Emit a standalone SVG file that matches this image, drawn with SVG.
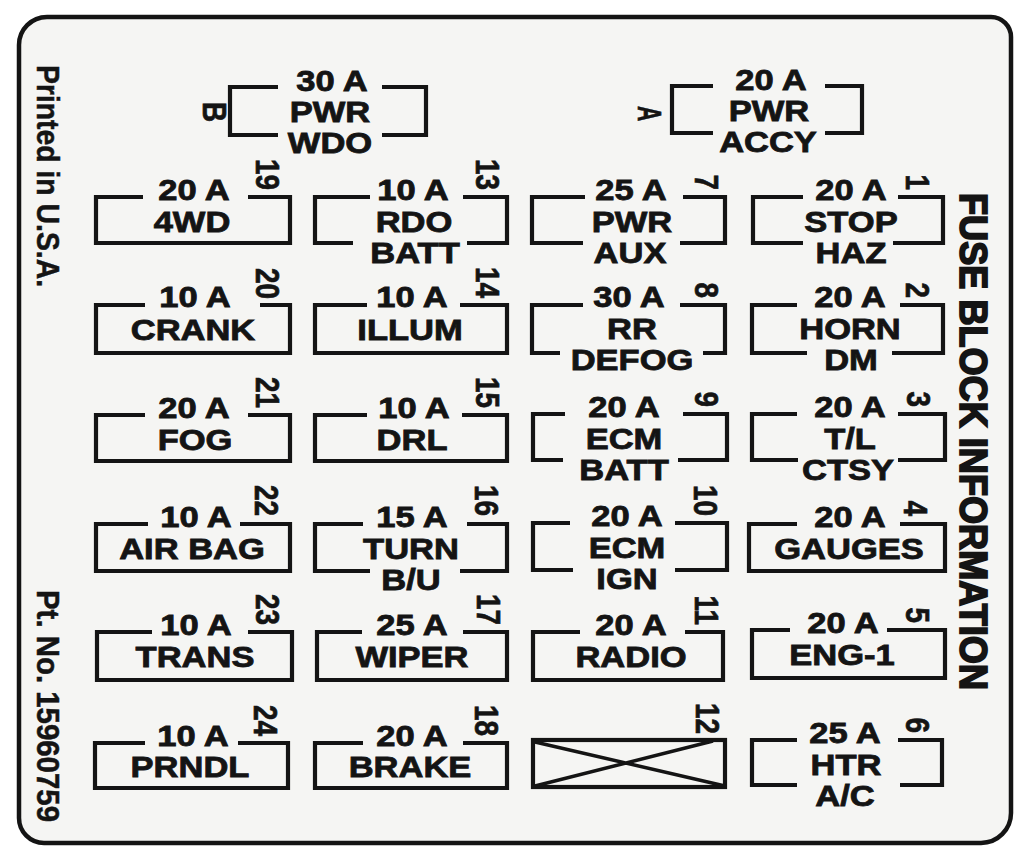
<svg xmlns="http://www.w3.org/2000/svg" width="1018" height="846" viewBox="0 0 1018 846">
<style>
.box{fill:none;stroke:#141414;stroke-width:4.2;stroke-linejoin:miter;stroke-linecap:butt}
.t{font-family:"Liberation Sans",Arial,Helvetica,sans-serif;font-weight:700;font-size:29px;fill:#141414;stroke:#141414;stroke-width:0.8;text-anchor:middle}
.n{font-family:"Liberation Sans",Arial,Helvetica,sans-serif;font-weight:700;font-size:34px;fill:#141414;stroke:#141414;stroke-width:0.7;text-anchor:end}
.s{font-family:"Liberation Sans",Arial,Helvetica,sans-serif;font-weight:700;font-size:32px;fill:#141414;stroke:#141414;stroke-width:0.5;text-anchor:start}
.big{font-family:"Liberation Sans",Arial,Helvetica,sans-serif;font-weight:700;font-size:38px;fill:#141414;stroke:#141414;stroke-width:1.8;text-anchor:start}
</style>
<rect width="1018" height="846" fill="#ffffff"/>
<g id="border">
<path d="M19 45 A28 28 0 0 1 47 17 H991 A20 20 0 0 1 1011 37 V813 A30 30 0 0 1 981 843 H44 A25 25 0 0 1 19 818 Z" fill="#f5f5f3" stroke="#141414" stroke-width="4.5"/>
</g>
<g id="side-labels">
<text class="s" transform="translate(37 65) rotate(90)" textLength="222" lengthAdjust="spacingAndGlyphs">Printed in U.S.A.</text>
<text class="s" transform="translate(37 590) rotate(90)" textLength="232" lengthAdjust="spacingAndGlyphs">Pt. No. 15960759</text>
<text class="big" transform="translate(960 193) rotate(90)" textLength="497" lengthAdjust="spacingAndGlyphs">FUSE BLOCK INFORMATION</text>
</g>
<g id="connectors"/>
<g id="breaker-B">
<path class="box" d="M278 87H230V135H278M382 87H426V135H382"/>
<text class="t" transform="translate(332 91) scale(1.19 1)">30 A</text>
<text class="t" transform="translate(330 122) scale(1.19 1)">PWR</text>
<text class="t" transform="translate(330 153) scale(1.19 1)">WDO</text>
<text class="n" transform="translate(203 102) rotate(90) scale(0.82 1)" style="text-anchor:start">B</text>
</g>
<g id="breaker-A">
<path class="box" d="M713 86H672V133H713M825 86H862V133H825"/>
<text class="t" transform="translate(771 90) scale(1.19 1)">20 A</text>
<text class="t" transform="translate(769 121) scale(1.19 1)">PWR</text>
<text class="t" transform="translate(768 152) scale(1.19 1)">ACCY</text>
<text class="n" transform="translate(638 106) rotate(90) scale(0.62 1)" style="text-anchor:start">A</text>
</g>
<g id="fuse-19">
<path class="box" d="M143 197H96V243H290V197H248"/>
<text class="t" transform="translate(194 200) scale(1.19 1)">20 A</text>
<text class="t" transform="translate(192 232) scale(1.19 1)">4WD</text>
<text class="n" transform="translate(256 190) rotate(90) scale(0.82 1)">19</text>
</g>
<g id="fuse-13">
<path class="box" d="M370 197H315V243H353M463 197H507V243H467"/>
<text class="t" transform="translate(413 200) scale(1.19 1)">10 A</text>
<text class="t" transform="translate(414 232) scale(1.19 1)">RDO</text>
<text class="t" transform="translate(415 263) scale(1.19 1)">BATT</text>
<text class="n" transform="translate(476 190) rotate(90) scale(0.82 1)">13</text>
</g>
<g id="fuse-7">
<path class="box" d="M585 197H532V243H583M683 197H725V243H680"/>
<text class="t" transform="translate(631 200) scale(1.19 1)">25 A</text>
<text class="t" transform="translate(632 232) scale(1.19 1)">PWR</text>
<text class="t" transform="translate(630 263) scale(1.19 1)">AUX</text>
<text class="n" transform="translate(695 190) rotate(90) scale(0.82 1)">7</text>
</g>
<g id="fuse-1">
<path class="box" d="M803 197H753V243H803M898 197H943V243H893"/>
<text class="t" transform="translate(851 200) scale(1.19 1)">20 A</text>
<text class="t" transform="translate(851 232) scale(1.19 1)">STOP</text>
<text class="t" transform="translate(851 263) scale(1.19 1)">HAZ</text>
<text class="n" transform="translate(906 190) rotate(90) scale(0.82 1)">1</text>
</g>
<g id="fuse-20">
<path class="box" d="M145 305H96V353H290V305H260"/>
<text class="t" transform="translate(195 307) scale(1.19 1)">10 A</text>
<text class="t" transform="translate(193 340) scale(1.19 1)">CRANK</text>
<text class="n" transform="translate(256 299) rotate(90) scale(0.82 1)">20</text>
</g>
<g id="fuse-14">
<path class="box" d="M367 305H315V353H507V305H460"/>
<text class="t" transform="translate(412 307) scale(1.19 1)">10 A</text>
<text class="t" transform="translate(410 340) scale(1.19 1)">ILLUM</text>
<text class="n" transform="translate(476 298) rotate(90) scale(0.82 1)">14</text>
</g>
<g id="fuse-8">
<path class="box" d="M583 305H532V353H560M680 305H725V353H703"/>
<text class="t" transform="translate(629 307) scale(1.19 1)">30 A</text>
<text class="t" transform="translate(632 339) scale(1.19 1)">RR</text>
<text class="t" transform="translate(632 370) scale(1.19 1)">DEFOG</text>
<text class="n" transform="translate(695 298) rotate(90) scale(0.82 1)">8</text>
</g>
<g id="fuse-2">
<path class="box" d="M797 305H752V353H807M900 305H943V353H892"/>
<text class="t" transform="translate(850 307) scale(1.19 1)">20 A</text>
<text class="t" transform="translate(850 339) scale(1.19 1)">HORN</text>
<text class="t" transform="translate(851 370) scale(1.19 1)">DM</text>
<text class="n" transform="translate(906 298) rotate(90) scale(0.82 1)">2</text>
</g>
<g id="fuse-21">
<path class="box" d="M145 415H96V461H290V415H248"/>
<text class="t" transform="translate(194 418) scale(1.19 1)">20 A</text>
<text class="t" transform="translate(195 450) scale(1.19 1)">FOG</text>
<text class="n" transform="translate(256 408) rotate(90) scale(0.82 1)">21</text>
</g>
<g id="fuse-15">
<path class="box" d="M367 415H315V461H507V415H462"/>
<text class="t" transform="translate(414 418) scale(1.19 1)">10 A</text>
<text class="t" transform="translate(412 450) scale(1.19 1)">DRL</text>
<text class="n" transform="translate(476 408) rotate(90) scale(0.82 1)">15</text>
</g>
<g id="fuse-9">
<path class="box" d="M565 414H533V460H563M683 414H727V460H678"/>
<text class="t" transform="translate(624 417) scale(1.19 1)">20 A</text>
<text class="t" transform="translate(624 449) scale(1.19 1)">ECM</text>
<text class="t" transform="translate(624 480) scale(1.19 1)">BATT</text>
<text class="n" transform="translate(695 407) rotate(90) scale(0.82 1)">9</text>
</g>
<g id="fuse-3">
<path class="box" d="M797 414H752V460H798M898 414H945V460H898"/>
<text class="t" transform="translate(850 417) scale(1.19 1)">20 A</text>
<text class="t" transform="translate(850 449) scale(1.19 1)">T/L</text>
<text class="t" transform="translate(848 480) scale(1.19 1)">CTSY</text>
<text class="n" transform="translate(907 407) rotate(90) scale(0.82 1)">3</text>
</g>
<g id="fuse-22">
<path class="box" d="M148 524H96V571H290V524H240"/>
<text class="t" transform="translate(196 527) scale(1.19 1)">10 A</text>
<text class="t" transform="translate(192 559) scale(1.19 1)">AIR BAG</text>
<text class="n" transform="translate(255 516) rotate(90) scale(0.82 1)">22</text>
</g>
<g id="fuse-16">
<path class="box" d="M363 524H315V571H370M467 524H507V571H460"/>
<text class="t" transform="translate(412 527) scale(1.19 1)">15 A</text>
<text class="t" transform="translate(411 559) scale(1.19 1)">TURN</text>
<text class="t" transform="translate(411 590) scale(1.19 1)">B/U</text>
<text class="n" transform="translate(475 516) rotate(90) scale(0.82 1)">16</text>
</g>
<g id="fuse-10">
<path class="box" d="M570 523H533V570H573M675 523H727V570H675"/>
<text class="t" transform="translate(627 526) scale(1.19 1)">20 A</text>
<text class="t" transform="translate(627 558) scale(1.19 1)">ECM</text>
<text class="t" transform="translate(627 589) scale(1.19 1)">IGN</text>
<text class="n" transform="translate(694 516) rotate(90) scale(0.82 1)">10</text>
</g>
<g id="fuse-4">
<path class="box" d="M797 524H749V571H945V524H900"/>
<text class="t" transform="translate(850 527) scale(1.19 1)">20 A</text>
<text class="t" transform="translate(849 559) scale(1.19 1)">GAUGES</text>
<text class="n" transform="translate(904 516) rotate(90) scale(0.82 1)">4</text>
</g>
<g id="fuse-23">
<path class="box" d="M152 632H97V680H292V632H248"/>
<text class="t" transform="translate(196 635) scale(1.19 1)">10 A</text>
<text class="t" transform="translate(195 667) scale(1.19 1)">TRANS</text>
<text class="n" transform="translate(256 625) rotate(90) scale(0.82 1)">23</text>
</g>
<g id="fuse-17">
<path class="box" d="M362 632H317V680H507V632H463"/>
<text class="t" transform="translate(412 635) scale(1.19 1)">25 A</text>
<text class="t" transform="translate(412 667) scale(1.19 1)">WIPER</text>
<text class="n" transform="translate(477 625) rotate(90) scale(0.82 1)">17</text>
</g>
<g id="fuse-11">
<path class="box" d="M580 632H533V680H723V632H685"/>
<text class="t" transform="translate(631 635) scale(1.19 1)">20 A</text>
<text class="t" transform="translate(631 667) scale(1.19 1)">RADIO</text>
<text class="n" transform="translate(695 625) rotate(90) scale(0.82 1)">11</text>
</g>
<g id="fuse-5">
<path class="box" d="M790 630H752V678H945V630H887"/>
<text class="t" transform="translate(843 633) scale(1.19 1)">20 A</text>
<text class="t" transform="translate(842 665) scale(1.19 1)">ENG-1</text>
<text class="n" transform="translate(906 623) rotate(90) scale(0.82 1)">5</text>
</g>
<g id="fuse-24">
<path class="box" d="M145 743H95V788H288V743H238"/>
<text class="t" transform="translate(193 746) scale(1.19 1)">10 A</text>
<text class="t" transform="translate(190 777) scale(1.19 1)">PRNDL</text>
<text class="n" transform="translate(254 736) rotate(90) scale(0.82 1)">24</text>
</g>
<g id="fuse-18">
<path class="box" d="M363 743H315V788H507V743H463"/>
<text class="t" transform="translate(412 746) scale(1.19 1)">20 A</text>
<text class="t" transform="translate(410 777) scale(1.19 1)">BRAKE</text>
<text class="n" transform="translate(475 736) rotate(90) scale(0.82 1)">18</text>
</g>
<g id="fuse-12">
<rect class="box" x="533" y="740" width="192" height="47"/>
<path d="M535 742L725 786M535 786L713 741" fill="none" stroke="#141414" stroke-width="3.5"/>
<text class="n" transform="translate(696 734) rotate(90) scale(0.82 1)">12</text>
</g>
<g id="fuse-6">
<path class="box" d="M797 740H752V785H797M898 740H942V785H900"/>
<text class="t" transform="translate(845 743) scale(1.19 1)">25 A</text>
<text class="t" transform="translate(846 775) scale(1.19 1)">HTR</text>
<text class="t" transform="translate(845 806) scale(1.19 1)">A/C</text>
<text class="n" transform="translate(906 733) rotate(90) scale(0.82 1)">6</text>
</g>
</svg>
